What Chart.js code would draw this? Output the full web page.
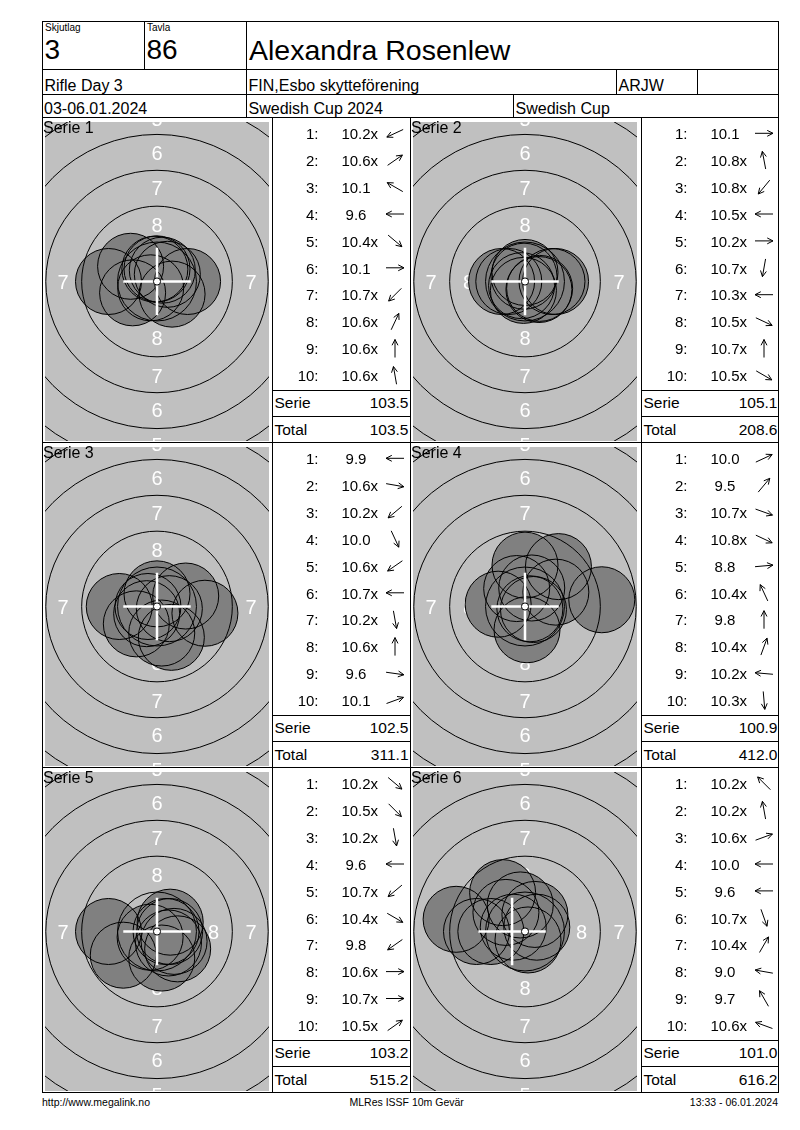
<!DOCTYPE html>
<html><head><meta charset="utf-8">
<script src="https://cdn.jsdelivr.net/npm/chart.js@4.4.1/dist/chart.umd.min.js"></script>
<style>
html,body{margin:0;padding:0;background:#fff;}
#page{position:relative;width:800px;height:1130px;overflow:hidden;font-family:"Liberation Sans",Arial,sans-serif;color:#000;}
.t{position:absolute;white-space:nowrap;line-height:1;}
.ln{position:absolute;background:#000;}
canvas.tg{position:absolute;display:block;}
#arrows{position:absolute;left:0;top:0;}
</style></head><body><div id="page"></div>
<script>
// ---------------- DATA ----------------
const seriesNames = ['Serie 1','Serie 2','Serie 3','Serie 4','Serie 5','Serie 6'];
// shot scores as printed (x = inner ten)
const scores1 = ['10.2x','10.6x','10.1','9.6','10.4x','10.1','10.7x','10.6x','10.6x','10.6x'];
const scores2 = ['10.1','10.8x','10.8x','10.5x','10.2x','10.7x','10.3x','10.5x','10.7x','10.5x'];
const scores3 = ['9.9','10.6x','10.2x','10.0','10.6x','10.7x','10.2x','10.6x','9.6','10.1'];
const scores4 = ['10.0','9.5','10.7x','10.8x','8.8','10.4x','9.8','10.4x','10.2x','10.3x'];
const scores5 = ['10.2x','10.5x','10.2x','9.6','10.7x','10.4x','9.8','10.6x','10.7x','10.5x'];
const scores6 = ['10.2x','10.2x','10.6x','10.0','9.6','10.7x','10.4x','9.0','9.7','10.6x'];
// shot positions on target (mm from centre, y up)
const shotX1 = [-1.70, 0.72,-1.84,-3.38, 1.05, 2.13,-0.44, 0.37, 0.00,-0.15];
const shotY1 = [-0.79, 0.50, 1.06, 0.00,-0.88, 0.00,-0.44, 0.79, 0.88, 0.86];
const shotX2 = [ 2.13,-0.07,-0.24,-1.13, 1.88,-0.11,-1.63, 1.02, 0.00, 0.97];
const shotY2 = [ 0.00, 0.37,-0.29, 0.00, 0.00,-0.62, 0.00,-0.48, 0.63,-0.56];
const shotX3 = [-2.63, 0.86,-1.44, 1.00,-0.72,-0.63, 0.33, 0.00, 3.34, 2.00];
const shotY3 = [ 0.00,-0.15,-1.21,-2.15,-0.50, 0.00,-1.85, 0.88,-0.47, 0.73];
const shotX4 = [ 2.15, 2.33, 0.59, 0.34, 5.35,-0.58, 0.00, 0.47,-1.87, 0.14];
const shotY4 = [ 1.00, 2.78,-0.21,-0.16, 0.47, 1.25, 2.88, 1.29, 0.16,-1.62];
const shotX5 = [ 1.44, 0.80, 0.33,-3.38,-0.48, 1.19,-2.35, 0.88, 0.63, 0.92];
const shotY5 = [-1.21,-0.80,-1.85, 0.00,-0.40,-0.69,-1.65, 0.00, 0.00, 0.65];
const shotX6 = [-1.33,-0.33, 0.82,-2.38,-3.38, 0.21, 0.69,-4.80,-1.56,-0.82];
const shotY6 = [ 1.33, 1.85, 0.30, 0.00, 0.00,-0.59, 1.19, 0.85, 2.71, 0.30];
// white cross marker per series (mm)
const crossX = [0, 0, 0, 0, 0, -0.9];
const crossY = [0, 0, 0, 0, 0, 0];
const seriesScore = ['103.5','105.1','102.5','100.9','103.2','101.0'];
const runningTotal = ['103.5','208.6','311.1','412.0','515.2','616.2'];
// target geometry (ISSF 10m air rifle, mm)
const ringRadii = [2.75, 5.25, 7.75, 10.25, 12.75, 15.25];
const ringLabels = [8, 7, 6, 5, 4, 3];
const ringLabelRadii = [3.94, 6.55, 8.95, 11.35, 13.9, 16.4];
const tenDotRadius = 0.25;
const pelletRadius = 2.3;
const crossArm = 2.35;

const allScores = [scores1,scores2,scores3,scores4,scores5,scores6];
const allX = [shotX1,shotX2,shotX3,shotX4,shotX5,shotX6];
const allY = [shotY1,shotY2,shotY3,shotY4,shotY5,shotY6];

// ---------------- LAYOUT HELPERS ----------------
const page = document.getElementById('page');
function text(str, x, baseline, size, align) {
  const d = document.createElement('div');
  d.className = 't';
  d.textContent = str;
  d.style.fontSize = size + 'px';
  d.style.top = (baseline - 0.8465 * size) + 'px';
  if (align === 'right') d.style.right = (800 - x) + 'px';
  else if (align === 'center') { d.style.left = x + 'px'; d.style.transform = 'translateX(-50%)'; }
  else d.style.left = x + 'px';
  page.appendChild(d);
  return d;
}
function hline(x1, x2, y) {
  const d = document.createElement('div'); d.className = 'ln';
  d.style.left = x1 + 'px'; d.style.top = y + 'px'; d.style.width = (x2 - x1) + 'px'; d.style.height = '1px';
  page.appendChild(d);
}
function vline(x, y1, y2) {
  const d = document.createElement('div'); d.className = 'ln';
  d.style.left = x + 'px'; d.style.top = y1 + 'px'; d.style.width = '1px'; d.style.height = (y2 - y1) + 'px';
  page.appendChild(d);
}

// frame
[21, 69, 94, 117, 442, 767, 1092].forEach(y => hline(42, 779, y));
vline(42, 21, 1093); vline(778, 21, 1093);
vline(144, 21, 69); vline(246, 21, 117);
vline(616, 69, 94); vline(697, 69, 94);
vline(513, 94, 117);
vline(272, 117, 1092); vline(410, 117, 1092); vline(641, 117, 1092);

// header
text('Skjutlag', 45, 31.5, 10);
text('Tavla', 147, 31.5, 10);
text('3', 44.5, 60, 28);
text('86', 146.5, 60, 28);
text('Alexandra Rosenlew', 249, 60, 28.5);
text('Rifle Day 3', 44.5, 91.5, 16);
text('FIN,Esbo skytteförening', 248.5, 91.5, 16);
text('ARJW', 618.5, 91.5, 16);
text('03-06.01.2024', 44, 114.5, 16);
text('Swedish Cup 2024', 248.5, 114.5, 16);
text('Swedish Cup', 515.5, 114.5, 16);
// footer
text('http://www.megalink.no', 42, 1106, 10.5);
text('MLRes ISSF 10m Gevär', 349.5, 1106, 10.5);
text('13:33 - 06.01.2024', 778, 1106, 10.5, 'right');

// arrows svg overlay
const NS = 'http://www.w3.org/2000/svg';
const svg = document.createElementNS(NS, 'svg');
svg.setAttribute('id', 'arrows'); svg.setAttribute('width', '800'); svg.setAttribute('height', '1130');
function seg(x1, y1, x2, y2) {
  const l = document.createElementNS(NS, 'line');
  l.setAttribute('x1', x1); l.setAttribute('y1', y1); l.setAttribute('x2', x2); l.setAttribute('y2', y2);
  l.setAttribute('stroke', '#000'); l.setAttribute('stroke-width', '1');
  svg.appendChild(l);
}
function arrow(cx, cy, ang) {
  const ux = Math.cos(ang), uy = -Math.sin(ang);
  const len = 9, hl = 6.5, ha = 27 * Math.PI / 180;
  const tx = cx + ux * len, ty = cy + uy * len;
  seg(cx - ux * len, cy - uy * len, tx, ty);
  const bx = -ux, by = -uy;
  [ha, -ha].forEach(h => {
    seg(tx, ty, tx + hl * (bx * Math.cos(h) - by * Math.sin(h)), ty + hl * (bx * Math.sin(h) + by * Math.cos(h)));
  });
}

// ---------------- CHARTS ----------------
function mmPx(chart, mm) {
  const s = chart.scales && chart.scales.x;
  if (!s) return mm * 14.35;
  return Math.abs(s.getPixelForValue(mm) - s.getPixelForValue(0));
}
const targetPlugin = {
  id: 'targetFace',
  beforeDraw(chart) {
    const c = chart.ctx;
    c.save(); c.fillStyle = '#c0c0c0'; c.fillRect(0, 0, chart.width, chart.height); c.restore();
  },
  beforeDatasetsDraw(chart) {
    const c = chart.ctx, xs = chart.scales.x, ys = chart.scales.y;
    c.save();
    c.fillStyle = '#ffffff';
    c.font = '20px "Liberation Sans", Arial, sans-serif';
    c.textAlign = 'center'; c.textBaseline = 'alphabetic';
    ringLabels.forEach((n, i) => {
      const r = ringLabelRadii[i];
      [[0, r], [0, -r], [r, 0], [-r, 0]].forEach(([dx, dy]) => {
        c.fillText(String(n), xs.getPixelForValue(dx), ys.getPixelForValue(dy) + 7.2);
      });
    });
    c.restore();
  }
};

for (let i = 0; i < 6; i++) {
  const L = (i % 2) ? 410 : 42;
  const T = 117 + Math.floor(i / 2) * 325;
  const B = (i % 2) ? 641 : 272;

  const cv = document.createElement('canvas');
  cv.className = 'tg';
  cv.width = 224; cv.height = 319;
  cv.style.left = (L + 3) + 'px'; cv.style.top = (T + 5) + 'px';
  cv.style.width = '224px'; cv.style.height = '319px';
  page.appendChild(cv);

  const shots = allX[i].map((x, k) => ({ x: x, y: allY[i][k] }));
  new Chart(cv, {
    type: 'scatter',
    data: {
      datasets: [
        { label: 'ten', data: [{ x: 0, y: 0 }], order: 0,
          pointRadius: c => mmPx(c.chart, tenDotRadius), pointBackgroundColor: '#ffffff',
          pointBorderColor: '#000000', pointBorderWidth: 1 },
        { label: 'cross', data: [{ x: crossX[i], y: crossY[i] }], order: 1, pointStyle: 'cross',
          pointRadius: c => mmPx(c.chart, crossArm), pointBorderColor: '#ffffff', pointBorderWidth: 2.5,
          pointBackgroundColor: 'rgba(0,0,0,0)' },
        { label: 'outline', data: shots, order: 2,
          pointRadius: c => mmPx(c.chart, pelletRadius), pointBackgroundColor: 'rgba(0,0,0,0)',
          pointBorderColor: '#000000', pointBorderWidth: 1 },
        { label: 'rings', data: ringRadii.map(() => ({ x: 0, y: 0 })), order: 3,
          pointRadius: c => mmPx(c.chart, ringRadii[c.dataIndex]), pointBackgroundColor: 'rgba(0,0,0,0)',
          pointBorderColor: '#000000', pointBorderWidth: 1 },
        { label: 'shots', data: shots, order: 4,
          pointRadius: c => mmPx(c.chart, pelletRadius), pointBackgroundColor: '#808080',
          pointBorderColor: 'rgba(0,0,0,0)', pointBorderWidth: 0 }
      ]
    },
    options: {
      responsive: false, animation: false, events: [],
      devicePixelRatio: 1,
      layout: { padding: 0 },
      plugins: { legend: { display: false }, tooltip: { enabled: false } },
      scales: {
        x: { type: 'linear', min: -7.805, max: 7.805, display: false },
        y: { type: 'linear', min: -11.115, max: 11.115, display: false }
      }
    },
    plugins: [targetPlugin]
  });

  text(seriesNames[i], L + 1, T + 17, 16);

  // score list
  allScores[i].forEach((s, j) => {
    const c = T + 16.3 + 26.9 * j;
    text((j + 1) + ':', B + 46.5, c + 5.4, 15, 'right');
    const hasX = s.endsWith('x');
    const d = text(s.replace('x', ''), B + 84, c + 5.4, 15, 'center');
    if (hasX) {
      const sp = document.createElement('span');
      sp.textContent = 'x'; sp.style.position = 'absolute'; sp.style.left = '100%'; sp.style.top = '0';
      d.appendChild(sp);
    }
    arrow(B + 123, c, Math.atan2(allY[i][j], allX[i][j]));
  });
  hline(B, (i % 2) ? 778 : 410, T + 273);
  hline(B, (i % 2) ? 778 : 410, T + 299);
  text('Serie', B + 2.5, T + 291, 15.5);
  text(seriesScore[i], B + 136.5, T + 291, 15.5, 'right');
  text('Total', B + 2.5, T + 318, 15.5);
  text(runningTotal[i], B + 136.5, T + 318, 15.5, 'right');
}
page.appendChild(svg);
</script>
</body></html>
